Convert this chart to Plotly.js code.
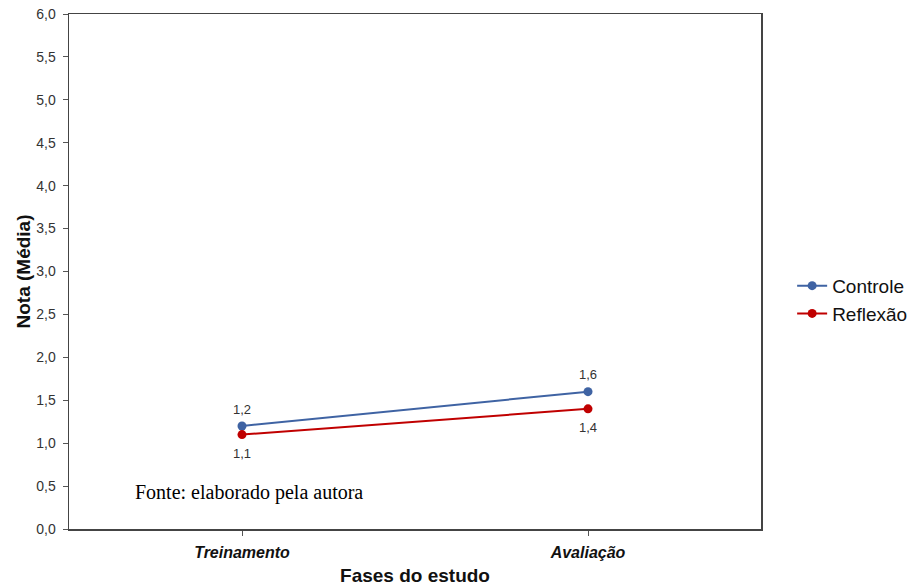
<!DOCTYPE html>
<html>
<head>
<meta charset="utf-8">
<script src="https://cdn.plot.ly/plotly-3.0.1.min.js"></script>
<style>html,body{margin:0;padding:0;background:#fff;}</style>
</head>
<body>
<div id="chart" style="width:924px;height:586px;"></div>
<script>
const phases = ["Treinamento", "Avaliação"];
const controle = [1.2, 1.6];
const reflexao = [1.1, 1.4];
const controleLabels = ["1,2", "1,6"];
const reflexaoLabels = ["1,1", "1,4"];
const yTicks = [0, 0.5, 1, 1.5, 2, 2.5, 3, 3.5, 4, 4.5, 5, 5.5, 6];

const xIdx = phases.map((p, i) => i);
const labelFont = {family: "Arial, Liberation Sans", size: 13, color: "#333"};

const traces = [
  {
    x: xIdx, y: controle, name: "Controle", type: "scatter", mode: "lines+markers",
    line: {color: "#3f63a3", width: 2}, marker: {color: "#3f63a3", size: 9}
  },
  {
    x: xIdx, y: reflexao, name: "Reflexão", type: "scatter", mode: "lines+markers",
    line: {color: "#c00000", width: 2}, marker: {color: "#c00000", size: 9}
  }
];

const annotations = [];
xIdx.forEach(i => {
  annotations.push({x: i, y: controle[i], xref: "x", yref: "y", text: controleLabels[i],
    showarrow: false, yshift: 17, font: labelFont});
  annotations.push({x: i, y: reflexao[i], xref: "x", yref: "y", text: reflexaoLabels[i],
    showarrow: false, yshift: -19, font: labelFont});
});
annotations.push({
  text: "Fonte: elaborado pela autora", xref: "paper", yref: "paper",
  x: 0.092, y: 0.07, xanchor: "left", yanchor: "middle", showarrow: false,
  font: {family: "Liberation Serif, Times New Roman, serif", size: 20, color: "#000"}
});

const layout = {
  width: 924, height: 586,
  margin: {l: 69, r: 158, t: 14, b: 57},
  paper_bgcolor: "#fff", plot_bgcolor: "#fff",
  separators: ",.",
  font: {family: "Arial, Liberation Sans", color: "#333"},
  showlegend: true,
  legend: {x: 1.045, xanchor: "left", y: 0.445, yanchor: "middle",
    font: {family: "Arial, Liberation Sans", size: 19, color: "#111"},
    tracegroupgap: 0, bgcolor: "rgba(0,0,0,0)"},
  xaxis: {
    range: [-0.5, 1.5], tickmode: "array", tickvals: xIdx,
    ticktext: phases.map(p => "<b><i>" + p + "</i></b>"),
    tickfont: {size: 16, color: "#111"},
    ticks: "outside", ticklen: 5, tickcolor: "#555", ticklabelstandoff: 3,
    showline: true, linecolor: "#444", linewidth: 1.5, mirror: true,
    showgrid: false, zeroline: false,
    title: {text: "<b>Fases do estudo</b>", font: {size: 19, color: "#111"}, standoff: 10}
  },
  yaxis: {
    range: [0, 6], tickmode: "array", tickvals: yTicks, tickformat: ".1f",
    tickfont: {size: 14, color: "#333"},
    ticks: "outside", ticklen: 5, tickcolor: "#555", ticklabelstandoff: 4,
    showline: true, linecolor: "#444", linewidth: 1.5, mirror: true,
    showgrid: false, zeroline: false,
    title: {text: "<b>Nota (Média)</b>", font: {size: 19, color: "#111"}, standoff: 0}
  },
  annotations: annotations
};

Plotly.newPlot("chart", traces, layout, {displayModeBar: false, staticPlot: true});
</script>
</body>
</html>
